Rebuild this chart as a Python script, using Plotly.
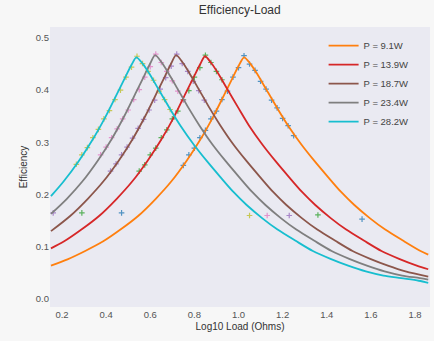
import plotly.graph_objects as go

# ---------------- data ----------------
labels = ["P = 9.1W", "P = 13.9W", "P = 18.7W", "P = 23.4W", "P = 28.2W"]

# fitted curves (x = log10 load, y = efficiency)
fit_x_91 = [0.15, 0.225, 0.305, 0.385, 0.465, 0.545, 0.625, 0.695, 0.765, 0.825, 0.885, 0.935, 0.975,
            1.005, 1.025, 1.055, 1.085, 1.125, 1.175, 1.225, 1.285, 1.345, 1.405, 1.465, 1.525, 1.595,
            1.665, 1.745, 1.825, 1.86]
fit_y_91 = [0.064, 0.076, 0.092, 0.110, 0.133, 0.159, 0.192, 0.225, 0.265, 0.304, 0.349, 0.391, 0.425,
            0.450, 0.463, 0.450, 0.431, 0.402, 0.366, 0.332, 0.296, 0.264, 0.234, 0.205, 0.180, 0.155,
            0.133, 0.112, 0.092, 0.085]

fit_x_139 = [0.15, 0.208, 0.288, 0.368, 0.448, 0.518, 0.588, 0.648, 0.708, 0.758, 0.798, 0.828, 0.848,
             0.878, 0.908, 0.948, 0.998, 1.048, 1.108, 1.168, 1.228, 1.288, 1.348, 1.418, 1.488, 1.568,
             1.648, 1.728, 1.808, 1.86]
fit_y_139 = [0.097, 0.110, 0.133, 0.159, 0.192, 0.225, 0.265, 0.304, 0.349, 0.392, 0.426, 0.451, 0.465,
             0.451, 0.432, 0.403, 0.367, 0.332, 0.296, 0.264, 0.234, 0.205, 0.180, 0.155, 0.133, 0.112,
             0.092, 0.077, 0.064, 0.057]

fit_x_187 = [0.15, 0.237, 0.317, 0.387, 0.457, 0.517, 0.577, 0.627, 0.667, 0.697, 0.717, 0.747, 0.777,
             0.817, 0.867, 0.917, 0.977, 1.037, 1.097, 1.157, 1.217, 1.287, 1.357, 1.437, 1.517, 1.597,
             1.677, 1.757, 1.86]
fit_y_187 = [0.130, 0.159, 0.192, 0.225, 0.265, 0.304, 0.350, 0.393, 0.427, 0.453, 0.467, 0.453, 0.433,
             0.404, 0.367, 0.333, 0.296, 0.264, 0.234, 0.205, 0.180, 0.155, 0.133, 0.112, 0.092, 0.077,
             0.064, 0.053, 0.043]

fit_x_234 = [0.15, 0.222, 0.292, 0.362, 0.422, 0.482, 0.532, 0.572, 0.602, 0.622, 0.652, 0.682, 0.722,
             0.772, 0.822, 0.882, 0.942, 1.002, 1.062, 1.122, 1.192, 1.262, 1.342, 1.422, 1.502, 1.582,
             1.662, 1.742, 1.822, 1.86]
fit_y_234 = [0.163, 0.192, 0.225, 0.265, 0.304, 0.350, 0.393, 0.427, 0.453, 0.467, 0.453, 0.433, 0.404,
             0.367, 0.333, 0.296, 0.264, 0.234, 0.205, 0.180, 0.155, 0.133, 0.112, 0.092, 0.077, 0.064,
             0.053, 0.045, 0.040, 0.037]

fit_x_282 = [0.15, 0.207, 0.277, 0.337, 0.397, 0.447, 0.487, 0.517, 0.537, 0.567, 0.597, 0.637, 0.687,
             0.737, 0.797, 0.857, 0.917, 0.977, 1.037, 1.107, 1.177, 1.257, 1.337, 1.417, 1.497, 1.577,
             1.657, 1.737, 1.817, 1.86]
fit_y_282 = [0.197, 0.225, 0.265, 0.304, 0.349, 0.391, 0.425, 0.450, 0.463, 0.450, 0.431, 0.402, 0.366,
             0.332, 0.296, 0.264, 0.234, 0.205, 0.180, 0.155, 0.133, 0.112, 0.092, 0.077, 0.064, 0.053,
             0.045, 0.040, 0.035, 0.031]

# measured points
pts_x_91 = [0.47, 0.75, 0.775, 0.80, 0.825, 0.85, 0.875, 0.90, 0.925, 0.95, 0.975, 1.00, 1.025, 1.05,
            1.075, 1.10, 1.125, 1.15, 1.175, 1.20, 1.225, 1.25, 1.56]
pts_y_91 = [0.165, 0.256, 0.276, 0.289, 0.309, 0.323, 0.345, 0.360, 0.382, 0.398, 0.425, 0.443, 0.466, 0.450,
            0.438, 0.417, 0.402, 0.381, 0.366, 0.346, 0.332, 0.313, 0.153]

pts_x_139 = [0.29, 0.55, 0.575, 0.60, 0.625, 0.65, 0.675, 0.70, 0.725, 0.75, 0.775, 0.80, 0.825, 0.85,
             0.875, 0.90, 0.925, 1.36]
pts_y_139 = [0.165, 0.245, 0.257, 0.276, 0.289, 0.309, 0.324, 0.345, 0.360, 0.382, 0.399, 0.425, 0.443,
             0.467, 0.453, 0.436, 0.420, 0.161]

pts_x_187 = [0.16, 0.42, 0.445, 0.47, 0.495, 0.52, 0.545, 0.57, 0.595, 0.62, 0.645, 0.67, 0.695, 0.72,
             0.745, 0.77, 0.795, 0.82, 0.845, 1.23]
pts_y_187 = [0.165, 0.245, 0.259, 0.276, 0.291, 0.308, 0.327, 0.344, 0.362, 0.381, 0.402, 0.424, 0.446,
             0.469, 0.451, 0.436, 0.417, 0.399, 0.381, 0.160]

pts_x_234 = [0.375, 0.40, 0.425, 0.45, 0.475, 0.50, 0.525, 0.55, 0.575, 0.60, 0.625, 0.65, 0.675, 0.70,
             0.725, 0.75, 1.13]
pts_y_234 = [0.276, 0.291, 0.309, 0.326, 0.345, 0.362, 0.382, 0.401, 0.425, 0.445, 0.469, 0.453, 0.436,
             0.418, 0.398, 0.381, 0.160]

pts_x_282 = [0.265, 0.29, 0.315, 0.34, 0.365, 0.39, 0.415, 0.44, 0.465, 0.49, 0.515, 0.54, 0.565, 0.59,
             0.615, 0.64, 0.665, 0.69, 1.05]
pts_y_282 = [0.258, 0.276, 0.290, 0.309, 0.325, 0.345, 0.361, 0.382, 0.400, 0.425, 0.444, 0.465, 0.451,
             0.436, 0.419, 0.398, 0.382, 0.363, 0.160]

x_ticks = [0.2, 0.4, 0.6, 0.8, 1.0, 1.2, 1.4, 1.6, 1.8]
y_ticks = [0.0, 0.1, 0.2, 0.3, 0.4, 0.5]

line_colors = ["#ff7f0e", "#d62728", "#8c564b", "#7f7f7f", "#17becf"]
point_colors = ["#1f77b4", "#2ca02c", "#9467bd", "#e377c2", "#bcbd22"]

fits = [(fit_x_91, fit_y_91), (fit_x_139, fit_y_139), (fit_x_187, fit_y_187),
        (fit_x_234, fit_y_234), (fit_x_282, fit_y_282)]
pts = [(pts_x_91, pts_y_91), (pts_x_139, pts_y_139), (pts_x_187, pts_y_187),
       (pts_x_234, pts_y_234), (pts_x_282, pts_y_282)]

fig = go.Figure()
for (px, py), c in zip(pts, point_colors):
    fig.add_trace(go.Scatter(x=px, y=py, mode="markers", showlegend=False,
                             marker=dict(symbol="cross-thin", size=4, color=c,
                                         line=dict(width=1.2, color=c), opacity=0.75)))
for (fx, fy), c, lab in zip(fits, line_colors, labels):
    fig.add_trace(go.Scatter(x=fx, y=fy, mode="lines", name=lab,
                             line=dict(color=c, width=1.8, shape="spline", smoothing=0.8)))

font_fam = "Liberation Sans, Arial, sans-serif"
fig.update_layout(
    width=434, height=341,
    margin=dict(l=50, r=4, t=27, b=34),
    paper_bgcolor="#f7f7f7",
    plot_bgcolor="#eaeaf2",
    font=dict(family=font_fam, size=9, color="#444444"),
    title=dict(text="Efficiency-Load", x=0.5525, xanchor="center", y=0.97, yanchor="middle",
               font=dict(size=12, color="#333333")),
    legend=dict(x=0.72, y=0.985, xanchor="left", yanchor="top", bgcolor="rgba(0,0,0,0)",
                font=dict(size=9.5, color="#444444"), itemwidth=30, tracegroupgap=0),
    xaxis=dict(range=[0.1456, 1.868], tickvals=x_ticks, ticktext=[f"{v:.1f}" for v in x_ticks],
               showgrid=False, zeroline=False, showline=False, ticks="",
               title=dict(text="Log10 Load (Ohms)", standoff=4, font=dict(size=10, color="#333333")),
               tickfont=dict(size=9.5, color="#555555")),
    yaxis=dict(range=[-0.0153, 0.521], tickvals=y_ticks, ticktext=[f"{v:.1f}" for v in y_ticks],
               showgrid=False, zeroline=False, showline=False, ticks="",
               title=dict(text="Efficiency", standoff=6, font=dict(size=10, color="#333333")),
               tickfont=dict(size=9.5, color="#555555")),
)

fig.write_html("out.html", config={"displayModeBar": False},
               post_script="document.body.style.margin='0px';")
